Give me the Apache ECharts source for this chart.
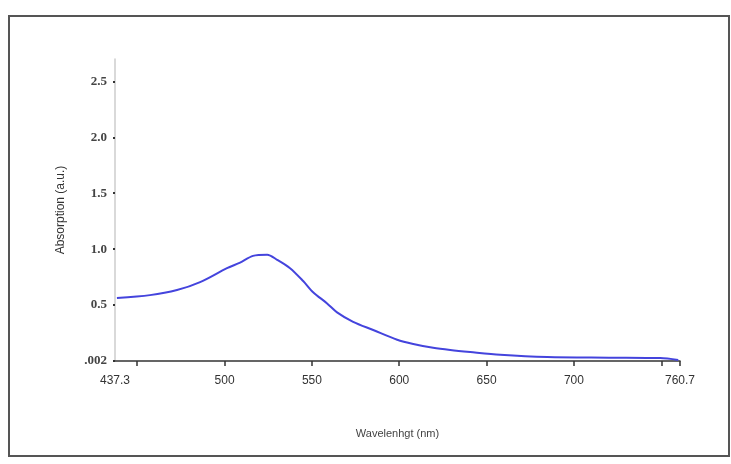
<!DOCTYPE html>
<html>
<head>
<meta charset="utf-8">
<script src="https://cdn.jsdelivr.net/npm/echarts@6/dist/echarts.min.js"></script>
<style>
  html, body { margin: 0; padding: 0; background: #fff; }
  #chart { width: 731px; height: 464px; }
</style>
</head>
<body>
<div id="chart"></div>
<script>
(function() {
  'use strict';

  // wavelength (nm) and absorption (a.u.)
  var wavelength = [438.4, 457.3, 472.8, 486.0, 501.4, 508.9, 516.3, 524.4, 530.1, 537.5,
                    545.0, 550.7, 558.7, 564.4, 573.6, 585.1, 598.8, 608.0, 619.4, 629.2,
                    640.6, 657.8, 684.7, 720.0, 749.4, 759.7];
  var absorption = [0.563, 0.589, 0.634, 0.705, 0.830, 0.880, 0.940, 0.950, 0.905, 0.830,
                    0.715, 0.615, 0.515, 0.435, 0.350, 0.277, 0.190, 0.152, 0.118, 0.098,
                    0.080, 0.056, 0.036, 0.030, 0.026, 0.009];

  var xTickValues = [450, 500, 550, 600, 650, 700, 750, 760.7];
  var xLabelValues = [437.3, 500, 550, 600, 650, 700, 760.7];
  var xLabelText = ['437.3', '500', '550', '600', '650', '700', '760.7'];

  var yTickValues = [0, 0.5, 1.0, 1.5, 2.0, 2.5];
  var yLabelText = ['.002', '0.5', '1.0', '1.5', '2.0', '2.5'];

  var points = wavelength.map(function(w, i) { return [w, absorption[i]]; });

  var chart = echarts.init(document.getElementById('chart'), null, { renderer: 'canvas' });

  chart.setOption({
    animation: false,
    backgroundColor: '#fff',
    graphic: [{
      type: 'rect',
      shape: { x: 9, y: 16, width: 720, height: 440 },
      style: { fill: 'none', stroke: '#555', lineWidth: 2 },
      silent: true
    }],
    grid: { left: 115, right: 51, top: 59, bottom: 103 },
    xAxis: {
      type: 'value',
      min: 437.3,
      max: 760.7,
      name: 'Wavelenhgt (nm)',
      nameLocation: 'middle',
      nameGap: 67,
      nameTextStyle: { fontFamily: 'Liberation Sans', fontSize: 11, color: '#444' },
      splitLine: { show: false },
      axisLine: { lineStyle: { color: '#333', width: 1.5 } },
      axisTick: {
        customValues: xTickValues,
        length: 5,
        lineStyle: { color: '#333', width: 1.5 }
      },
      axisLabel: {
        customValues: xLabelValues,
        margin: 14,
        fontFamily: 'Liberation Sans Narrow, Liberation Sans',
        fontSize: 12,
        color: '#333',
        formatter: function(v) {
          var i = xLabelValues.indexOf(v);
          return i >= 0 ? xLabelText[i] : '';
        }
      }
    },
    yAxis: {
      type: 'value',
      min: 0,
      max: 2.7,
      name: 'Absorption (a.u.)',
      nameLocation: 'middle',
      nameRotate: 90,
      nameGap: 48,
      nameTextStyle: { fontFamily: 'Liberation Sans', fontSize: 12, color: '#333' },
      splitLine: { show: false },
      axisLine: { show: true, lineStyle: { color: '#ccc', width: 1.5 } },
      axisTick: {
        customValues: yTickValues,
        length: 2,
        lineStyle: { color: '#333', width: 2 }
      },
      axisLabel: {
        customValues: yTickValues,
        margin: 8,
        fontFamily: 'Liberation Serif',
        fontWeight: 'bold',
        fontSize: 13,
        color: '#444',
        formatter: function(v) {
          var i = yTickValues.indexOf(v);
          return i >= 0 ? yLabelText[i] : '';
        }
      }
    },
    series: [{
      type: 'line',
      data: points,
      smooth: 0.3,
      symbol: 'none',
      lineStyle: { color: '#4444dd', width: 2 }
    }]
  });
})();
</script>
</body>
</html>
